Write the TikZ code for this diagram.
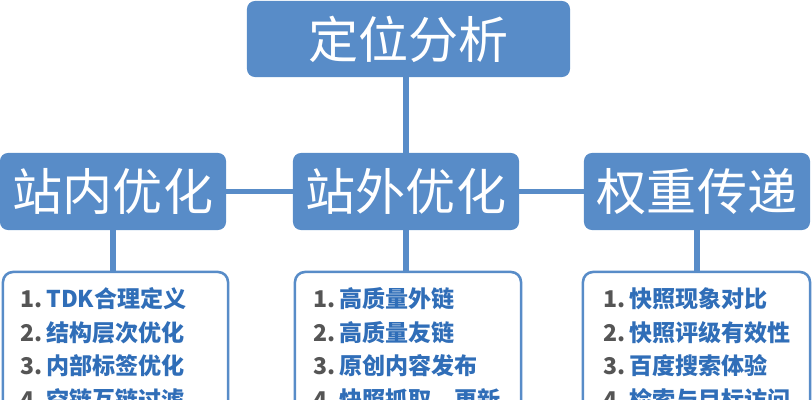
\documentclass[tikz,border=0pt]{standalone}
\usepackage{fontspec}
\setmainfont{Noto Sans CJK SC}
\definecolor{boxblue}{RGB}{88,140,200}
\definecolor{itemblue}{RGB}{48,110,184}
\definecolor{numgray}{RGB}{85,85,85}
\newcommand{\itemno}[1]{{\color{numgray}#1}\,}

\begin{document}
\begin{tikzpicture}[x=0.025cm, y=-0.025cm,
    headbox/.style={fill=boxblue, rounded corners=0.2cm, text=white,
        font=\fontsize{35.6}{40}\selectfont, inner sep=0pt, minimum height=1.925cm},
    listbox/.style={draw=boxblue, line width=1.8pt, rounded corners=0.25cm,
        fill=white, minimum height=4.2cm},
    itemtext/.style={font=\bfseries\fontsize{16.4}{24}\selectfont, text=itemblue,
        inner sep=0pt, anchor=base west},
    link/.style={draw=boxblue, line width=3.6pt}]
    \useasboundingbox (0,0) rectangle (812,400);
    \clip (0,0) rectangle (812,400);
    % top and second row
    \node[headbox, minimum width=8.075cm, minimum height=1.9cm] (pos) at (408.5,39) {定位分析};
    \node[headbox, minimum width=5.65cm] (inside) at (113,191.5) {站内优化};
    \node[headbox, minimum width=5.65cm] (outside) at (406,191.5) {站外优化};
    \node[headbox, minimum width=5.65cm] (weight) at (697,191.5) {权重传递};
    % list boxes
    \node[listbox, minimum width=5.625cm] (inlist) at (115.5,356) {};
    \node[listbox, minimum width=5.65cm] (outlist) at (408,356) {};
    \node[listbox, minimum width=5.675cm] (weightlist) at (696.5,356) {};
    % connectors
    \draw[link] (pos.south -| outside.north) -- (outside.north);
    \draw[link] (inside.east) -- (outside.west);
    \draw[link] (outside.east) -- (weight.west);
    \draw[link] (inside.south) -- (inside.south |- inlist.north);
    \draw[link] (outside.south) -- (outside.south |- outlist.north);
    \draw[link] (weight.south) -- (weight.south |- weightlist.north);
    % items
    \foreach \txt [count=\i] in {TDK合理定义, 结构层次优化, 内部标签优化, 空链互链过滤}
        \node[itemtext] (in\i) at (20,274.5+33.5*\i) {\itemno{\i.}\txt};
    \foreach \txt [count=\i] in {高质量外链, 高质量友链, 原创内容发布, 快照抓取、更新}
        \node[itemtext] (out\i) at (313,274.5+33.5*\i) {\itemno{\i.}\txt};
    \foreach \txt [count=\i] in {快照现象对比, 快照评级有效性, 百度搜索体验, 检索与目标访问}
        \node[itemtext] (wt\i) at (603,274.5+33.5*\i) {\itemno{\i.}\txt};
\end{tikzpicture}
\end{document}
